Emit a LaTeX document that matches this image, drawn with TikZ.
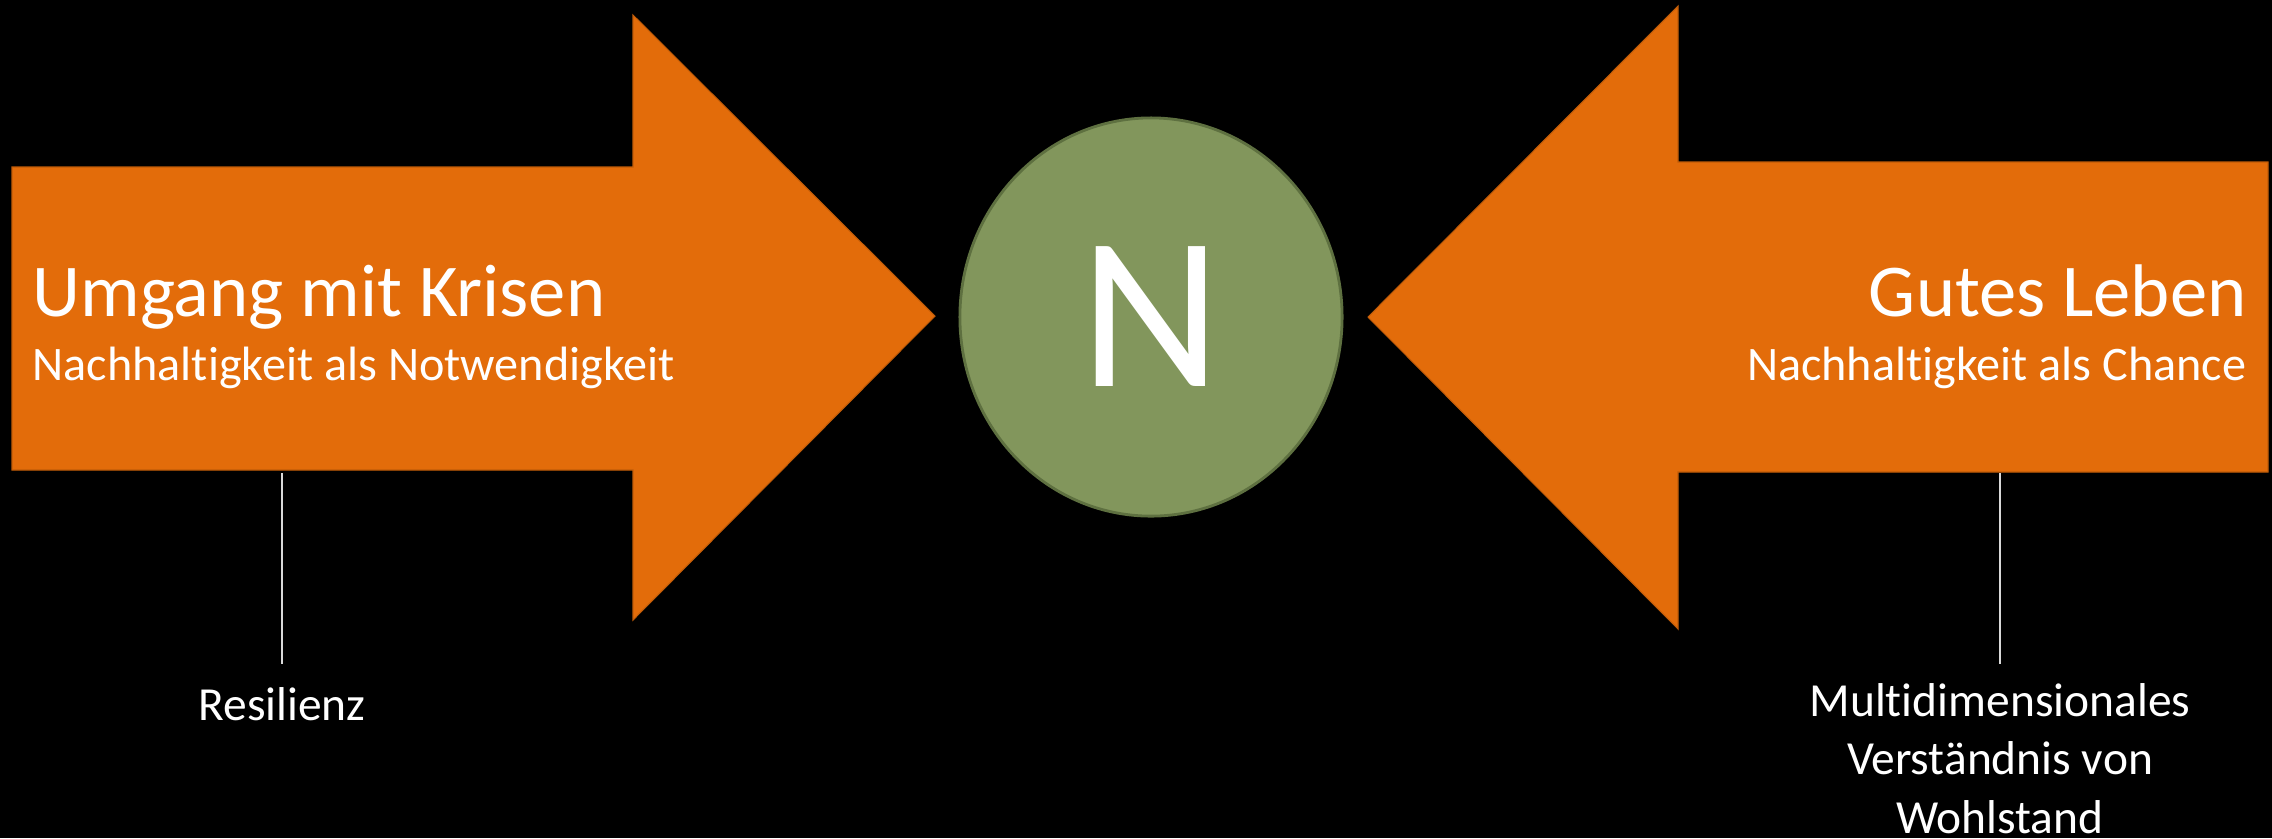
\documentclass[tikz,border=0pt]{standalone}
\usepackage{fontspec}
\setmainfont{Carlito}[Ligatures=CommonOff]
\usetikzlibrary{positioning,calc,shapes.geometric}
\definecolor{arrowfill}{HTML}{E36C0A}
\definecolor{kernfill}{HTML}{82965C}
\definecolor{kerndraw}{HTML}{5E7040}
\definecolor{stemline}{HTML}{D9D9D9}

\begin{document}
\begin{tikzpicture}[x=0.01cm, y=-0.01cm,
  bigarrow/.style={fill=arrowfill, draw=arrowfill!85!black, line width=0.3pt},
  kern/.style={ellipse, draw=kerndraw, fill=kernfill, line width=0.8pt, inner sep=0pt, minimum width=3.82cm, minimum height=3.98cm, text=white, font=\fontsize{62}{66}\selectfont},
  headline/.style={text=white, inner sep=0pt, font=\fontsize{21.2}{26}\selectfont},
  subline/.style={text=white, inner sep=0pt, font=\fontsize{13.7}{17}\selectfont},
  note/.style={text=white, inner sep=0pt, align=center, font=\fontsize{13.5}{16.5}\selectfont},
  stem/.style={draw=stemline, line width=0.6pt}
]
  \fill[black] (0,0) rectangle (2272,838);
  \useasboundingbox (0,0) rectangle (2272,838);

  % arrows
  \filldraw[bigarrow] (12,167) -- (633,167) -- (633,15) -- (935,316) -- (633,620) -- (633,470) -- (12,470) -- cycle;
  \filldraw[bigarrow] (2268,162) -- (1678,162) -- (1678,6) -- (1368,317) -- (1678,629) -- (1678,472) -- (2268,472) -- cycle;

  \node[kern] (kern) at (1151,317) {\raisebox{-0.07cm}{N}};

  \node[headline, anchor=base west] (krisen) at (32,316) {Umgang mit Krisen};
  \node[subline, anchor=base west] (notw) at (32,380) {Nachhaltigkeit als Notwendigkeit};
  \node[headline, anchor=base east] (leben) at (2247,316) {Gutes Leben};
  \node[subline, anchor=base east] (chance) at (2247,380) {Nachhaltigkeit als Chance};

  \node[note, anchor=base] (resil) at (282,720) {Resilienz};
  \node[note, anchor=base] (wohl) at (2000,833) {Multidimensionales\\Verständnis von\\Wohlstand};

  \coordinate (lstem) at (282,473);
  \coordinate (lstemend) at (282,664);
  \coordinate (rstem) at (2000,473);
  \coordinate (rstemend) at (2000,664);
  \draw[stem] (lstem) -- (lstemend);
  \draw[stem] (rstem) -- (rstemend);
\end{tikzpicture}
\end{document}
